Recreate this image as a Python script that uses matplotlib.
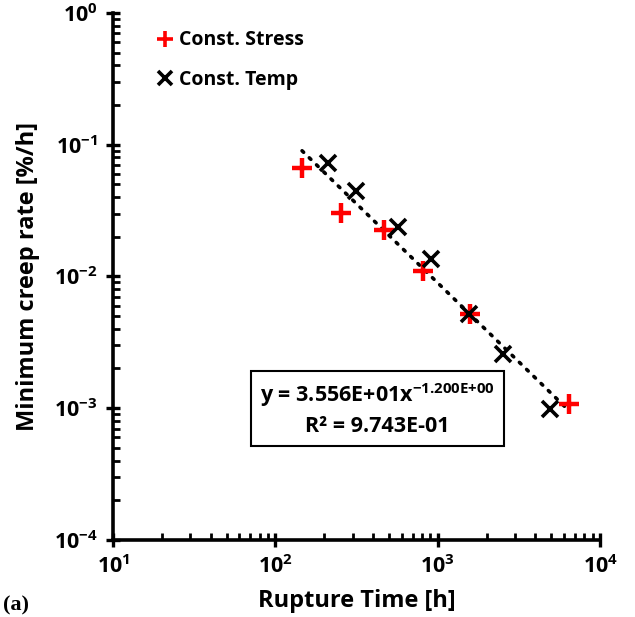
import numpy as np
import matplotlib
matplotlib.use("Agg")
import matplotlib.pyplot as plt
from matplotlib.ticker import LogLocator, NullFormatter

plt.rcParams['font.family'] = ['Open Sans', 'DejaVu Sans']
plt.rcParams['font.weight'] = 'bold'
plt.rcParams['mathtext.fontset'] = 'custom'
plt.rcParams['mathtext.rm'] = 'Open Sans:bold'
plt.rcParams['mathtext.bf'] = 'Open Sans:bold'
plt.rcParams['mathtext.default'] = 'bf'

# constant stress tests
stress_time = [146, 254, 468, 817, 1585, 6460]
stress_rate = [0.0663, 0.0302, 0.0225, 0.01107, 0.00519, 0.00108]
# constant temperature tests
temp_time = [210, 314, 573, 906, 1567, 2518, 4930]
temp_rate = [0.0731, 0.0446, 0.0236, 0.0136, 0.00519, 0.00258, 0.000987]
# power-law fit y = a * x^b
fit_a = 35.56
fit_b = -1.2

fig = plt.figure(figsize=(6.35, 6.17), dpi=100)
ax = fig.add_axes([0.178, 0.125, 0.767, 0.854])

xs = np.array(stress_time + temp_time)
xfit = np.logspace(np.log10(xs.min()), np.log10(xs.max()), 50)
ax.plot(xfit, fit_a * xfit ** fit_b, color='black', lw=2.6,
        linestyle=(0, (0.6, 2.2)), dash_capstyle='round', zorder=2)

ax.plot(stress_time, stress_rate, linestyle='none', marker='+', color='red',
        ms=14, mew=3.2, label='Const. Stress', zorder=3)
ax.plot(temp_time, temp_rate, linestyle='none', marker='x', color='black',
        ms=11, mew=2.6, label='Const. Temp', zorder=4)

ax.set_xscale('log')
ax.set_yscale('log')
ax.set_xlim(10, 1e4)
ax.set_ylim(1e-4, 1)

for s in ['top', 'right']:
    ax.spines[s].set_visible(False)
for s in ['left', 'bottom']:
    ax.spines[s].set_linewidth(2.6)

ax.xaxis.set_major_locator(LogLocator(base=10, numticks=10))
ax.yaxis.set_major_locator(LogLocator(base=10, numticks=10))
ax.xaxis.set_minor_locator(LogLocator(base=10, subs=np.arange(2, 10), numticks=20))
ax.yaxis.set_minor_locator(LogLocator(base=10, subs=np.arange(2, 10), numticks=20))
ax.xaxis.set_minor_formatter(NullFormatter())
ax.yaxis.set_minor_formatter(NullFormatter())
ax.tick_params(which='major', direction='inout', length=10, width=2.4,
               labelsize=15.5, pad=6)
ax.tick_params(which='minor', direction='in', length=5, width=2)

ax.set_xlabel('Rupture Time [h]', fontsize=17, fontweight='bold', labelpad=8)
ax.set_ylabel('Minimum creep rate [%/h]', fontsize=17, fontweight='bold', labelpad=10)

leg = ax.legend(loc='upper left', bbox_to_anchor=(0.06, 1.0), frameon=False,
                handlelength=0.5, handletextpad=0.5, labelspacing=1.0,
                prop={'weight': 'bold', 'size': 14})
leg.legend_handles[0].set_markersize(11)
leg.legend_handles[0].set_markeredgewidth(2.6)
leg.legend_handles[1].set_markersize(10)

ax.text(0.543, 0.248, 'y = 3.556E+01x$^{-1.200E{+}00}$\nR\u00b2 = 9.743E-01',
        transform=ax.transAxes, ha='center', va='center', fontsize=15.5,
        fontweight='bold', linespacing=1.45,
        bbox=dict(boxstyle='square,pad=0.4', fc='white', ec='black', lw=1.5))

fig.text(0.005, 0.01, '(a)', fontsize=16, fontweight='bold', family='Liberation Serif')

fig.savefig('out.png', dpi=100)
